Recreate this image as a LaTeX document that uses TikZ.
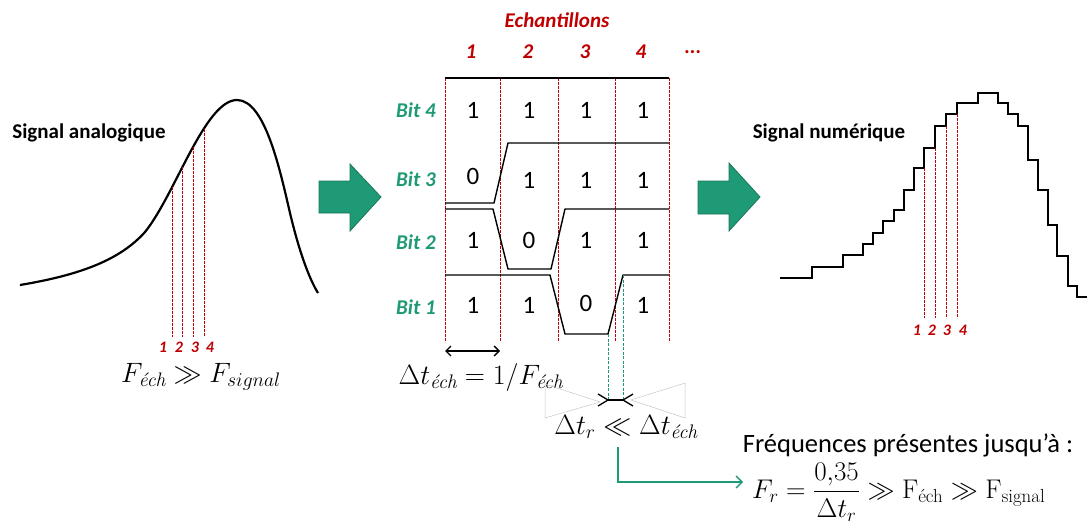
\RequirePackage{fix-cm}
\documentclass[tikz,border=0pt]{standalone}
\usepackage{amsmath}
\usepackage{fontspec}
\newfontfamily\calib{Carlito}
\usetikzlibrary{arrows.meta}
\definecolor{dred}{HTML}{C00000}
\definecolor{tgreen}{HTML}{1F9A76}
\definecolor{tgreendk}{HTML}{17765A}
\begin{document}
\begin{tikzpicture}[x=1pt,y=-1pt,
  title/.style={font=\calib\bfseries\fontsize{21}{25}\selectfont, inner sep=0pt},
  bitlab/.style={font=\calib\bfseries\itshape\fontsize{21}{25}\selectfont, text=tgreen, inner sep=0pt, anchor=east},
  collab/.style={font=\calib\bfseries\itshape\fontsize{21}{25}\selectfont, text=dred, inner sep=0pt},
  smalllab/.style={font=\calib\bfseries\itshape\fontsize{16}{19}\selectfont, text=dred, inner sep=0pt},
  val/.style={font=\calib\fontsize{25}{30}\selectfont, inner sep=0pt},
  mth/.style={font=\fontsize{28}{32}\selectfont, inner sep=0pt},
  sig/.style={line width=2.2pt, line join=round},
  wave/.style={line width=1.4pt, line join=round},
  rdash/.style={dred, line width=0.9pt, dash pattern=on 2.5pt off 1.5pt},
  gdash/.style={tgreen, line width=1pt, dash pattern=on 3pt off 1.5pt},
  bigarrow/.style={fill=tgreen, draw=tgreendk, line width=0.8pt, line join=miter},
  barb/.style={-{Straight Barb[length=6pt,width=12pt,line width=1.3pt]}},
  ghost/.style={draw=black!22, line width=0.5pt}
]
\useasboundingbox (0,0) rectangle (1091,527);

% ---------- left analog signal ----------
\node[title] (sa) at (89,133) {Signal analogique};
\draw[sig] (20,285) .. controls (80,275) and (120,260) .. (145,232)
  .. controls (175,195) and (205,100) .. (237,100)
  .. controls (265,100) and (280,170) .. (290,213)
  .. controls (300,255) and (310,280) .. (318,293);
\foreach \x/\t in {172/187, 182/167, 193/147, 204/129}
  \draw[rdash] (\x,\t) -- (\x,337);
\node[smalllab] (la1) at (163,347) {1};
\node[smalllab] (la2) at (179,347) {2};
\node[smalllab] (la3) at (195,347) {3};
\node[smalllab] (la4) at (210,347) {4};
\node[mth] (fa) at (201,377) {$F_{\text{\itshape éch}} \gg F_{signal}$};

% ---------- green block arrows ----------
\draw[bigarrow] (319,181) -- (350,181) -- (350,164) -- (381,197) -- (350,231) -- (350,213) -- (319,213) -- cycle;
\draw[bigarrow] (698,181) -- (729,181) -- (729,163) -- (760,197) -- (729,231) -- (729,214) -- (698,214) -- cycle;

% ---------- table ----------
\node[collab] (ech) at (557,20) {Echantillons};
\node[collab] (c1) at (471,52) {1};
\node[collab] (c2) at (528,52) {2};
\node[collab] (c3) at (585,52) {3};
\node[collab] (c4) at (641,52) {4};
\node[collab] (c5) at (693,52) {...};

\node[bitlab] (b4) at (436,110) {Bit 4};
\node[bitlab] (b3) at (436,179) {Bit 3};
\node[bitlab] (b2) at (436,242) {Bit 2};
\node[bitlab] (b1) at (436,307) {Bit 1};

\foreach \x in {445,500,558,615,669}
  \draw[rdash] (\x,78) -- (\x,342);

\draw[wave] (445,78) -- (669,78);
\draw[wave] (445,203) -- (494,203) -- (508,143) -- (669,143);
\draw[wave] (445,209) -- (493,209) -- (508,269) -- (551,269) -- (565,209) -- (669,209);
\draw[wave] (445,275) -- (550,275) -- (565,334) -- (608,334) -- (623,275) -- (669,275);

\node[val] (v41) at (473,110) {1};
\node[val] (v42) at (529,110) {1};
\node[val] (v43) at (586,110) {1};
\node[val] (v44) at (643,110) {1};
\node[val] (v31) at (473,176) {0};
\node[val] (v32) at (529,180) {1};
\node[val] (v33) at (586,180) {1};
\node[val] (v34) at (643,180) {1};
\node[val] (v21) at (473,240) {1};
\node[val] (v22) at (529,240) {0};
\node[val] (v23) at (586,240) {1};
\node[val] (v24) at (643,240) {1};
\node[val] (v11) at (473,305) {1};
\node[val] (v12) at (529,305) {1};
\node[val] (v13) at (586,303) {0};
\node[val] (v14) at (643,305) {1};

% period arrow
\coordinate (pa) at (445,351);
\coordinate (pb) at (500,351);
\draw[line width=1.3pt, {Straight Barb[length=5pt,width=10pt]}-{Straight Barb[length=5pt,width=10pt]}] (pa) -- (pb);
\node[mth] (dte) at (481,377) {$\Delta t_{\text{\itshape éch}} = 1/F_{\text{\itshape éch}}$};

% rise time
\coordinate (r0) at (608,334);
\coordinate (r1) at (623,275);
\coordinate (r0b) at (608,400);
\coordinate (r1b) at (623,400);
\draw[gdash] (r0) -- (r0b);
\draw[gdash] (r1) -- (r1b);
\draw[ghost] (545,384) -- (545,418) -- (600,402) -- cycle;
\draw[ghost] (685,383) -- (685,418) -- (631,400) -- cycle;
\draw[line width=1.3pt] (r0b) -- (r1b);
\draw[line width=1.3pt] (598,394) -- (r0b) -- (598,406);
\draw[line width=1.3pt] (633,394) -- (r1b) -- (633,406);
\node[mth] (dtr) at (626,427) {$\Delta t_r \ll \Delta t_{\text{\itshape éch}}$};

% conclusion
\node[font=\calib\fontsize{26.5}{30}\selectfont, inner sep=0pt] (freq) at (908,445) {Fréquences présentes jusqu’à :};
\node[font=\fontsize{27}{31}\selectfont, inner sep=0pt, anchor=west] (form) at (752,492) {$F_r = \dfrac{0{,}35}{\Delta t_r} \gg \mathrm{F}_{\text{éch}} \gg \mathrm{F}_{\text{signal}}$};
\coordinate (e0) at (618,447);
\coordinate (e1) at (618,482);
\coordinate (e2) at (743,482);
\draw[tgreen, line width=1.8pt, barb] (e0) -- (e1) -- (e2);

% ---------- right digital signal ----------
\node[title] (sn) at (829,133) {Signal numérique};
\draw[sig, line join=miter] (780,278) -| (812,267) -| (843,255) -| (863,244) -| (873,233) -| (883,221) -| (894,210) -| (904,190) -| (914,168) -| (924,148) -| (935,126) -| (946,114) -| (957,103) -| (978,93) -| (998,103) -| (1008,114) -| (1018,126) -| (1028,160) -| (1038,190) -| (1048,225) -| (1057,256) -| (1068,286) -| (1077,297) -- (1087,297);
\foreach \x/\t in {924/168, 935/148, 946/126, 957/114}
  \draw[rdash] (\x,\t) -- (\x,318);
\node[smalllab] (lb1) at (917,330) {1};
\node[smalllab] (lb2) at (932,330) {2};
\node[smalllab] (lb3) at (947,330) {3};
\node[smalllab] (lb4) at (963,330) {4};
\end{tikzpicture}
\end{document}
